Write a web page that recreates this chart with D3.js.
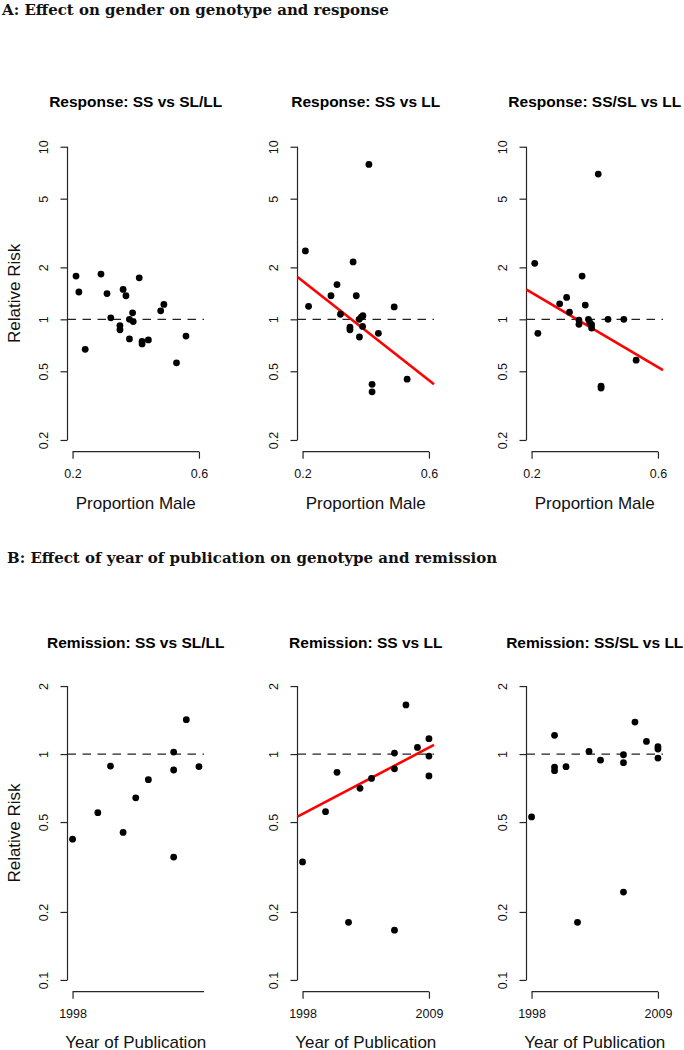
<!DOCTYPE html>
<html><head><meta charset="utf-8">
<script src="https://cdn.jsdelivr.net/npm/d3@7/dist/d3.min.js"></script>
<style>body{margin:0;background:#fff}svg{display:block}</style>
</head><body>
<svg id="chart" width="684" height="1050"></svg>
<script>
// ---------------- data ----------------
const sectionTitles = [
  "A: Effect on gender on genotype and response",
  "B: Effect of year of publication on genotype and remission"
];
const responseTitles = ["Response: SS vs SL/LL", "Response: SS vs LL", "Response: SS/SL vs LL"];
const remissionTitles = ["Remission: SS vs SL/LL", "Remission: SS vs LL", "Remission: SS/SL vs LL"];
const xLabelMale = "Proportion Male";
const xLabelYear = "Year of Publication";
const yLabel = "Relative Risk";

const maleTicks = [0.2, 0.6];
const yearTicks = [1998, 2009];
const responseRRTicks = [0.2, 0.5, 1, 2, 5, 10];
const remissionRRTicks = [0.1, 0.2, 0.5, 1, 2];
const maleLimits = [0.2, 0.6];
const responseRRLimits = [0.2, 10];
const remissionRRLimits = [0.1, 2];

// Response, SS vs SL/LL
const male_SSvsSLLL = [0.211,0.220,0.240,0.290,0.309,0.321,0.360,0.369,0.350,0.350,0.380,0.390,0.392,0.380,0.411,0.420,0.420,0.440,0.479,0.489,0.529,0.559];
const rrResp_SSvsSLLL = [1.78,1.44,0.67,1.83,1.41,1.02,1.49,1.37,0.92,0.87,1.00,1.09,0.97,0.77,1.74,0.745,0.72,0.76,1.12,1.22,0.56,0.80];
// Response, SS vs LL
const male_SSvsLL = [0.209,0.219,0.290,0.309,0.320,0.360,0.370,0.350,0.350,0.379,0.386,0.391,0.390,0.380,0.410,0.420,0.420,0.440,0.490,0.531];
const rrResp_SSvsLL = [2.49,1.19,1.37,1.59,1.07,2.15,1.37,0.90,0.87,1.00,1.03,1.05,0.91,0.79,7.90,0.42,0.38,0.83,1.18,0.45];
// Response, SS/SL vs LL
const male_SSSLvsLL = [0.210,0.220,0.289,0.311,0.320,0.360,0.370,0.350,0.350,0.380,0.384,0.390,0.390,0.411,0.420,0.420,0.442,0.492,0.531];
const rrResp_SSSLvsLL = [2.11,0.83,1.23,1.34,1.10,1.78,1.21,0.99,0.935,1.00,0.96,0.93,0.89,6.94,0.41,0.40,1.00,1.00,0.58];

// Remission, SS vs SL/LL
const year_SSvsSLLL = [1998,2000,2001,2002,2003,2004,2006,2006,2006,2007,2008];
const rrRem_SSvsSLLL = [0.42,0.55,0.885,0.45,0.64,0.77,1.02,0.85,0.35,1.42,0.88];
// Remission, SS vs LL
const year_SSvsLL = [1998,2000,2001,2002,2003,2004,2006,2006,2006,2007,2008,2009,2009,2009];
const rrRem_SSvsLL = [0.333,0.556,0.83,0.18,0.705,0.78,1.01,0.86,0.166,1.65,1.07,1.17,0.98,0.80];
// Remission, SS/SL vs LL
const year_SSSLvsLL = [1998,2000,2000,2000,2001,2002,2003,2004,2006,2006,2006,2007,2008,2009,2009,2009];
const rrRem_SSSLvsLL = [0.527,1.21,0.876,0.844,0.879,0.18,1.027,0.94,0.993,0.916,0.245,1.385,1.137,1.078,1.052,0.96];

// meta-regression fits: log10(RR) = intercept + slope * (x - origin)
const fitResp_SSvsLL = {intercept: 0.509, slope: -1.436, origin: 0};
const fitResp_SSSLvsLL = {intercept: 0.370, slope: -1.078, origin: 0};
const fitRem_SSvsLL = {intercept: -0.2655, slope: 0.02673, origin: 1998};

// ---------------- layout ----------------
const svg = d3.select("#chart");
const plotLefts = [67.5, 297.5, 526.5];
const plotW = 136.5;
const rowA = {top: 135, bottom: 451.7, titleY: 106.7, xTitleY: 508.5};
const rowB = {top: 674.3, bottom: 991.7, titleY: 648.3, xTitleY: 1047.5};
const axisColor = "#262626";
const fontSans = "'Liberation Sans', Arial, Helvetica, sans-serif";

function expand(lim, log) {
  if (log) {
    const a = Math.log10(lim[0]), b = Math.log10(lim[1]), d = (b - a) * 0.04;
    return [Math.pow(10, a - d), Math.pow(10, b + d)];
  }
  const d = (lim[1] - lim[0]) * 0.04;
  return [lim[0] - d, lim[1] + d];
}
const fmt = v => String(v);

function panel(opts) {
  const left = plotLefts[opts.col], right = left + plotW;
  const row = opts.row;
  const x = d3.scaleLinear().domain(expand(opts.xlim, false)).range([left, right]);
  const y = d3.scaleLog().domain(expand(opts.ylim, true)).range([row.bottom, row.top]);
  const g = svg.append("g");

  // title
  g.append("text").attr("x", (left + right) / 2).attr("y", row.titleY)
    .attr("text-anchor", "middle").attr("font-family", fontSans)
    .attr("font-weight", "bold").attr("font-size", 15.5).attr("fill", "#000")
    .text(opts.title);

  // y axis
  const yt = opts.yticks;
  const ya = g.append("g").attr("transform", `translate(${left},0)`)
    .call(d3.axisLeft(y).tickValues(yt).tickFormat(fmt).tickSize(7).tickSizeOuter(0));
  ya.select(".domain").attr("d", `M0,${y(d3.max(yt))}V${y(d3.min(yt))}`)
    .attr("stroke", axisColor).attr("stroke-width", 1.2);
  ya.selectAll(".tick line").attr("stroke", axisColor).attr("stroke-width", 1.2);
  ya.selectAll(".tick text").attr("x", null).attr("dy", null)
    .attr("transform", "translate(-19.5,0) rotate(-90)")
    .attr("text-anchor", "middle").attr("font-family", fontSans)
    .attr("font-size", 12.5).attr("fill", "#111");

  // x axis (R style: line spans the ticks that fall inside the range)
  const xd = x.domain();
  const xt = opts.xticks.filter(v => v >= xd[0] && v <= xd[1]);
  const lineA = Math.max(d3.min(opts.xticks), xd[0]);
  const lineB = Math.min(d3.max(opts.xticks), xd[1]);
  const xa = g.append("g").attr("transform", `translate(0,${row.bottom})`)
    .call(d3.axisBottom(x).tickValues(xt).tickFormat(fmt).tickSize(7).tickSizeOuter(0));
  xa.select(".domain").attr("d", `M${x(lineA)},0H${x(lineB)}`)
    .attr("stroke", axisColor).attr("stroke-width", 1.2);
  xa.selectAll(".tick line").attr("stroke", axisColor).attr("stroke-width", 1.2);
  xa.selectAll(".tick text").attr("y", 26.6).attr("dy", null)
    .attr("font-family", fontSans).attr("font-size", 12.5).attr("fill", "#111");

  // x axis title
  g.append("text").attr("x", (left + right) / 2).attr("y", row.xTitleY)
    .attr("text-anchor", "middle").attr("font-family", fontSans)
    .attr("font-size", 17).attr("fill", "#111").text(opts.xlabel);

  // y axis title
  if (opts.col === 0) {
    g.append("text")
      .attr("transform", `translate(20,${(row.top + row.bottom) / 2}) rotate(-90)`)
      .attr("text-anchor", "middle").attr("font-family", fontSans)
      .attr("font-size", 17).attr("fill", "#111").text(yLabel);
  }

  // reference line RR = 1
  g.append("line").attr("x1", left).attr("x2", right)
    .attr("y1", y(1)).attr("y2", y(1))
    .attr("stroke", "#222").attr("stroke-width", 1.3).attr("stroke-dasharray", "8.5,6.5");

  // regression line
  if (opts.fit) {
    const f = opts.fit;
    const pts = xd.map(v => [v, Math.pow(10, f.intercept + f.slope * (v - f.origin))]);
    g.append("path")
      .attr("d", d3.line().x(d => x(d[0])).y(d => y(d[1]))(pts))
      .attr("stroke", "#ff0000").attr("stroke-width", 2.6).attr("fill", "none");
  }

  // points
  const data = d3.zip(opts.xs, opts.ys);
  g.append("g").selectAll("circle").data(data).join("circle")
    .attr("cx", d => x(d[0])).attr("cy", d => y(d[1])).attr("r", 3.4)
    .attr("fill", "#000");
}

// section headers
const fontSerif = "'DejaVu Serif', 'Liberation Serif', serif";
svg.append("text").attr("x", 2).attr("y", 14.5).attr("font-family", fontSerif)
  .attr("font-weight", "bold").attr("font-size", 15).attr("fill", "#111").text(sectionTitles[0]);
svg.append("text").attr("x", 7).attr("y", 563).attr("font-family", fontSerif)
  .attr("font-weight", "bold").attr("font-size", 15).attr("fill", "#111").text(sectionTitles[1]);

const respX = [male_SSvsSLLL, male_SSvsLL, male_SSSLvsLL];
const respY = [rrResp_SSvsSLLL, rrResp_SSvsLL, rrResp_SSSLvsLL];
const respFit = [null, fitResp_SSvsLL, fitResp_SSSLvsLL];
const remX = [year_SSvsSLLL, year_SSvsLL, year_SSSLvsLL];
const remY = [rrRem_SSvsSLLL, rrRem_SSvsLL, rrRem_SSSLvsLL];
const remFit = [null, fitRem_SSvsLL, null];

for (let i = 0; i < 3; i++) {
  panel({row: rowA, col: i, title: responseTitles[i], xs: respX[i], ys: respY[i],
    xlim: maleLimits, ylim: responseRRLimits, xticks: maleTicks, yticks: responseRRTicks,
    xlabel: xLabelMale, fit: respFit[i]});
  panel({row: rowB, col: i, title: remissionTitles[i], xs: remX[i], ys: remY[i],
    xlim: d3.extent(remX[i]), ylim: remissionRRLimits, xticks: yearTicks, yticks: remissionRRTicks,
    xlabel: xLabelYear, fit: remFit[i]});
}
</script>
</body></html>
